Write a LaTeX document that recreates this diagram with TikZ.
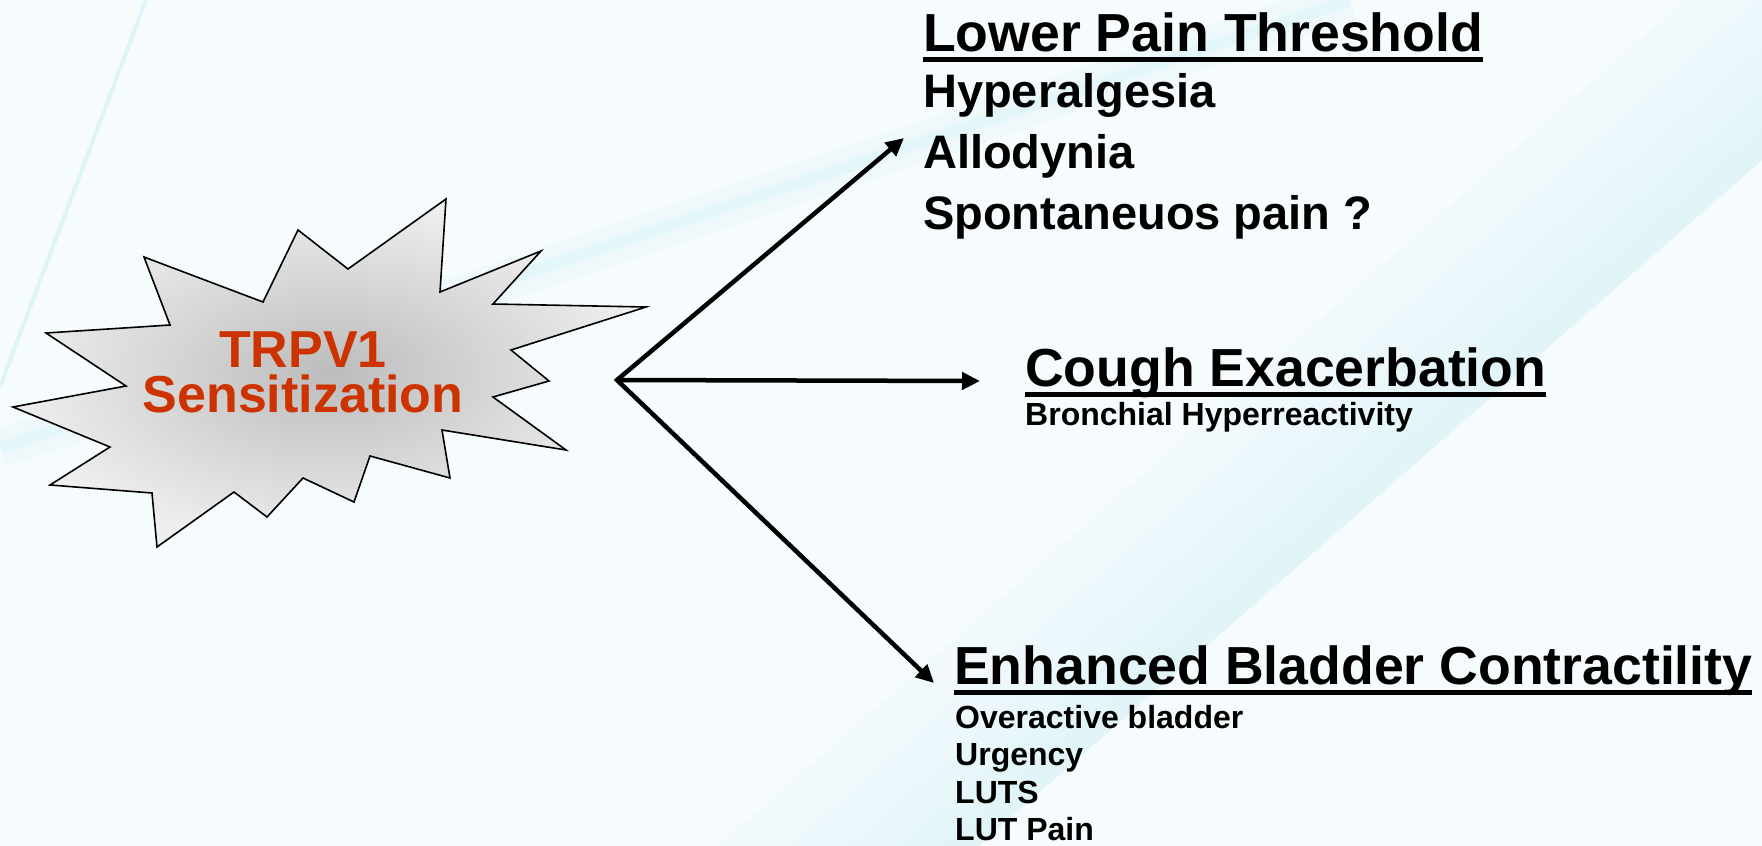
\documentclass[tikz,border=0pt]{standalone}
\usepackage{fontspec}
\setmainfont{Liberation Sans}
\usetikzlibrary{arrows.meta}
\definecolor{bgc}{RGB}{246,251,253}
\definecolor{streak}{RGB}{205,242,247}
\definecolor{trpv}{RGB}{204,51,0}
\definecolor{starin}{RGB}{188,188,188}
\definecolor{starout}{RGB}{238,238,238}
\newsavebox\ulbox
\newcommand\myul[1]{\sbox\ulbox{#1}\rlap{\rule[-11pt]{\wd\ulbox}{5pt}}\usebox\ulbox}
\begin{document}
\begin{tikzpicture}[x=1pt,y=-1pt,
  head/.style={font=\fontsize{53.6}{60}\selectfont\bfseries, anchor=base west, inner sep=0pt},
  itemA/.style={font=\fontsize{47}{56}\selectfont\bfseries, anchor=base west, inner sep=0pt},
  itemB/.style={font=\fontsize{32}{38}\selectfont\bfseries, anchor=base west, inner sep=0pt},
  startext/.style={font=\fontsize{52}{45}\selectfont\bfseries, text=trpv, align=center, anchor=center, inner sep=0pt},
  conn/.style={line width=4.5pt, line join=miter},
  tip/.style={-{Triangle[length=18pt,width=17pt]}},
  ]
\useasboundingbox (0,0) rectangle (1762,846);
\fill[bgc] (0,0) rectangle (1762,846);
\begin{scope}
\clip (0,0) rectangle (1762,846);
\foreach \w in {40,80,130,190,260}
  \fill[streak, opacity=0.12] (1945,0) -- (978,846) -- (978-\w,846) -- (1945-\w,0) -- cycle;
\draw[streak, line width=40pt, opacity=0.15] (0,448) -- (1350,0);
\draw[streak, line width=12pt, opacity=0.35] (0,448) -- (1350,0);
\draw[streak, line width=4pt, opacity=0.6] (146,0) -- (0,387);
\end{scope}
% star
\shadedraw[draw=black, line width=1.6pt, line join=miter, inner color=starin, outer color=starout]
  (446,199) -- (440,292) -- (541,251) -- (493,304) -- (646,307) -- (511,350) --
  (549,381) -- (493,397) -- (566,450) -- (442,430) -- (450,478) -- (370,456) --
  (354,502) -- (303,478) -- (267,517) -- (234,492) -- (157,547) -- (152,493) --
  (50,485) -- (110,447) -- (13,407) -- (126,386) -- (46,333) -- (170,325) --
  (144,257) -- (263,302) -- (298,230) -- (348,269) -- cycle;
\node[startext] (trpv) at (303,372) {TRPV1\\Sensitization};
% texts
\node[head] (low) at (923,51) {\myul{Lower Pain Threshold}};
\node[itemA] (hyp) at (923,107) {Hyperalgesia};
\node[itemA] (allo) at (923,168) {Allodynia};
\node[itemA] (spont) at (923,229) {Spontaneuos pain ?};
\node[head] (cough) at (1025,386) {\myul{Cough Exacerbation}};
\node[itemB] (bron) at (1025,425) {Bronchial Hyperreactivity};
\node[head] (enh) at (954,684) {\myul{Enhanced Bladder Contractility}};
\node[itemB] (over) at (955,728) {Overactive bladder};
\node[itemB] (urg) at (955,765.5) {Urgency};
\node[itemB] (luts) at (955,803) {LUTS};
\node[itemB] (lutp) at (955,840.5) {LUT Pain};
% connectors
\coordinate (src) at (617,380);
\coordinate (t1) at (904,138);
\coordinate (t2) at (980,381);
\coordinate (t3) at (934,683);
\draw[conn, {Triangle[length=18pt,width=17pt]}-{Triangle[length=18pt,width=17pt]}] (t1) -- (src) -- (t3);
\draw[conn, tip] (src) -- (t2);
\end{tikzpicture}
\end{document}
